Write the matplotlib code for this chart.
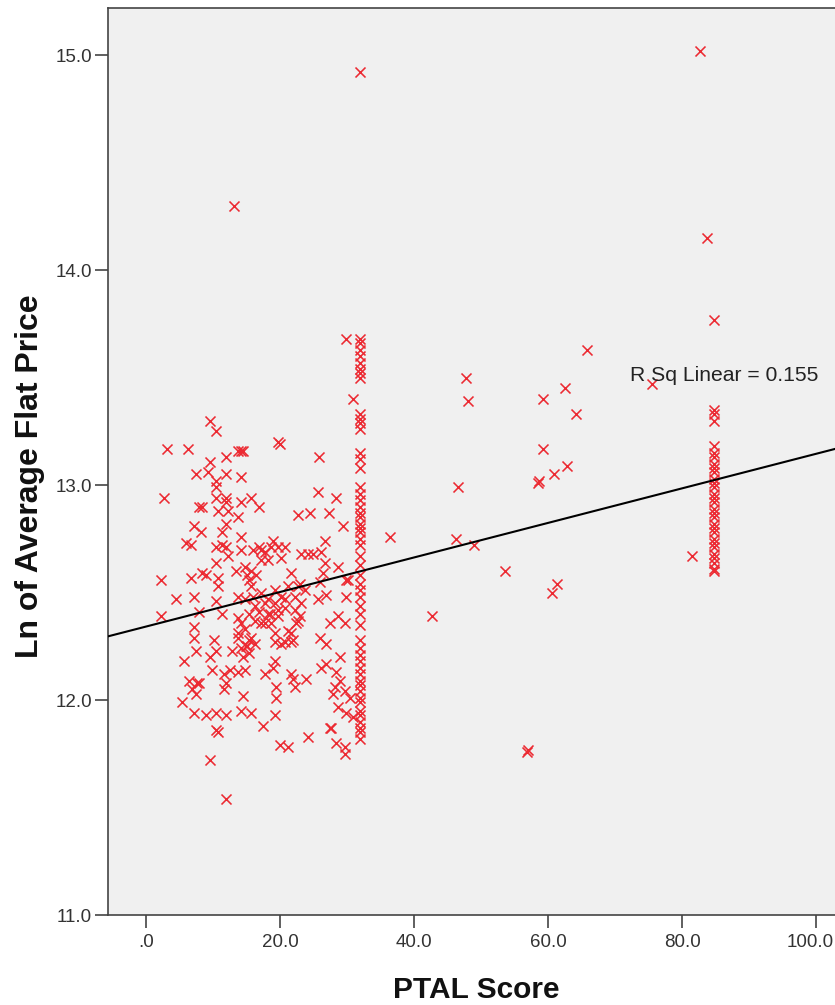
import matplotlib
matplotlib.use("Agg")
import matplotlib.pyplot as plt
import matplotlib.transforms as mtransforms
import numpy as np

plt.rcParams['font.family'] = ['Liberation Sans', 'DejaVu Sans']

# ---- data (PTAL score, ln of average flat price) ----
low_ptal_points = [
    (9.6, 13.30), (10.4, 13.25), (3.1, 13.17), (6.2, 13.17), (13.8, 13.16), (14.2, 13.16), (14.5, 13.16),
    (19.7, 13.20), (25.8, 13.13), (9.6, 13.11), (12.0, 13.13), (7.4, 13.05), (9.3, 13.06), (11.9, 13.05),
    (14.1, 13.04), (10.4, 13.02), (10.4, 12.99), (2.7, 12.94), (25.7, 12.97), (28.3, 12.94), (10.4, 12.94),
    (12.0, 12.94), (15.7, 12.94), (14.2, 12.92), (11.9, 12.92), (16.8, 12.90), (7.9, 12.90), (8.3, 12.90),
    (10.8, 12.88), (12.3, 12.88), (13.8, 12.85), (22.7, 12.86), (24.5, 12.87), (27.3, 12.87), (7.1, 12.81),
    (8.2, 12.78), (12.0, 12.82), (11.3, 12.78), (29.4, 12.81), (5.9, 12.73), (6.7, 12.72), (10.4, 12.71),
    (12.0, 12.71), (14.1, 12.76), (14.2, 12.70), (16.8, 12.71), (17.8, 12.69), (19.0, 12.74), (19.7, 12.71),
    (20.8, 12.71), (23.1, 12.68), (24.9, 12.68), (26.7, 12.74), (26.1, 12.69), (20.2, 12.66), (10.4, 12.64),
    (13.4, 12.60), (15.7, 12.60), (26.7, 12.64), (28.6, 12.62), (2.2, 12.56), (6.7, 12.57), (8.3, 12.59),
    (10.8, 12.57), (15.3, 12.56), (21.7, 12.59), (21.2, 12.53), (22.7, 12.53), (30.1, 12.56), (10.8, 12.53),
    (11.3, 12.72), (12.3, 12.67), (16.0, 12.70), (17.1, 12.70), (18.7, 12.71), (14.8, 12.62), (15.0, 12.58),
    (17.2, 12.65), (24.2, 12.68), (18.2, 12.65), (8.9, 12.58), (15.7, 12.53), (19.3, 12.51), (20.2, 12.48),
    (23.0, 12.54), (23.7, 12.51), (26.0, 12.55), (26.4, 12.59), (29.8, 12.56), (16.4, 12.58),
    (4.5, 12.47), (2.2, 12.39), (7.1, 12.48), (7.9, 12.41), (10.4, 12.46), (11.3, 12.40), (5.6, 12.18),
    (7.1, 12.34), (7.1, 12.29), (7.4, 12.23), (10.1, 12.28), (10.4, 12.23), (9.6, 12.20), (7.9, 12.08),
    (6.8, 12.05), (5.3, 11.99), (7.1, 11.94), (8.9, 11.93), (10.4, 11.94), (12.0, 11.93), (14.2, 11.95),
    (15.7, 11.94), (17.5, 11.88), (19.3, 11.93), (10.5, 11.86), (10.8, 11.85), (20.0, 11.79), (21.2, 11.78),
    (9.5, 11.72), (12.0, 11.54),
    (13.8, 12.38), (14.8, 12.33), (13.8, 12.29), (15.3, 12.28), (14.2, 12.24), (15.3, 12.22), (14.5, 12.20),
    (16.3, 12.26), (16.3, 12.44), (17.8, 12.45), (16.8, 12.41), (18.2, 12.40), (17.2, 12.36), (18.7, 12.36),
    (19.7, 12.39), (19.3, 12.31), (20.8, 12.43), (22.3, 12.42), (22.7, 12.37), (21.7, 12.31), (22.0, 12.28),
    (20.2, 12.26), (19.3, 12.27), (25.7, 12.47), (26.9, 12.49), (29.8, 12.48), (28.6, 12.39), (29.7, 12.36),
    (27.4, 12.36), (26.0, 12.29), (26.9, 12.26), (15.0, 12.25), (12.8, 12.23),
    (19.3, 12.18), (17.8, 12.12), (19.0, 12.15), (21.7, 12.12), (22.0, 12.10), (23.9, 12.10), (22.3, 12.06),
    (19.4, 12.06), (19.4, 12.01), (26.1, 12.15), (26.9, 12.17), (28.9, 12.20), (28.3, 12.13), (28.2, 12.06),
    (27.9, 12.03), (28.9, 12.09), (29.7, 12.04), (30.4, 12.01), (9.8, 12.14), (11.6, 12.12), (12.6, 12.14),
    (13.8, 12.13), (14.8, 12.14), (12.0, 12.08), (11.6, 12.05), (6.4, 12.09), (7.6, 12.08), (7.4, 12.03),
    (14.5, 12.02), (28.6, 11.97), (29.8, 11.94), (30.9, 11.92), (27.4, 11.87), (27.6, 11.87), (24.2, 11.83),
    (28.3, 11.80), (29.7, 11.78), (29.7, 11.75),
    (13.8, 12.48), (14.8, 12.47), (16.0, 12.48), (17.2, 12.50), (18.2, 12.47), (19.3, 12.45), (20.8, 12.47),
    (22.3, 12.48), (23.1, 12.45), (23.0, 12.39), (22.4, 12.36), (15.3, 12.40), (16.3, 12.37), (17.8, 12.36),
    (18.5, 12.40), (19.7, 12.42), (14.2, 12.36), (13.8, 12.31), (14.9, 12.25), (15.7, 12.29), (20.8, 12.27),
    (21.7, 12.27), (21.2, 12.32),
    (13.2, 14.30), (29.9, 13.68), (30.9, 13.40), (20.0, 13.19),
]

col32_x = 31.9
col32_y = [13.68, 13.66, 13.63, 13.60, 13.57, 13.54, 13.52, 13.50, 13.33, 13.31, 13.29, 13.26, 13.15, 13.12,
           13.08, 12.99, 12.96, 12.93, 12.90, 12.87, 12.85, 12.82, 12.80, 12.78, 12.75, 12.72, 12.67, 12.63,
           12.58, 12.54, 12.51, 12.48, 12.44, 12.40, 12.35, 12.28, 12.24, 12.21, 12.18, 12.15, 12.12, 12.09,
           12.07, 12.04, 12.01, 11.99, 11.95, 11.93, 11.90, 11.87, 11.85, 11.82]

col85_x = 84.8
col85_y = [13.35, 13.33, 13.30, 13.18, 13.15, 13.13, 13.10, 13.08, 13.06, 13.03, 13.01, 12.99, 12.96, 12.94,
           12.92, 12.89, 12.87, 12.85, 12.82, 12.80, 12.78, 12.75, 12.73, 12.71, 12.68, 12.66, 12.64, 12.61,
           12.60]

mid_high_points = [
    (31.9, 14.92), (82.7, 15.02), (83.7, 14.15), (84.8, 13.77), (65.8, 13.63), (75.5, 13.47), (47.8, 13.50),
    (48.1, 13.39), (62.5, 13.45), (59.3, 13.40), (64.2, 13.33), (59.3, 13.17), (60.9, 13.05), (62.8, 13.09),
    (58.5, 13.01), (58.6, 13.02), (46.6, 12.99), (46.3, 12.75), (49.0, 12.72), (53.6, 12.60), (36.4, 12.76),
    (42.7, 12.39), (60.6, 12.50), (61.3, 12.54), (56.9, 11.76), (57.0, 11.77), (81.5, 12.67),
]

fit_intercept = 12.342
fit_slope = 0.00804
r_sq_label = "R Sq Linear = 0.155"

x_ticks = [0, 20, 40, 60, 80, 100]
x_tick_labels = [".0", "20.0", "40.0", "60.0", "80.0", "100.0"]
y_ticks = [11, 12, 13, 14, 15]
y_tick_labels = ["11.0", "12.0", "13.0", "14.0", "15.0"]

# ---- assemble ----
xs = [p[0] for p in low_ptal_points] + [col32_x] * len(col32_y) + [col85_x] * len(col85_y) + [p[0] for p in mid_high_points]
ys = [p[1] for p in low_ptal_points] + col32_y + col85_y + [p[1] for p in mid_high_points]

W, H = 835, 1005
fig = plt.figure(figsize=(W / 100, H / 100), dpi=100)
ax = fig.add_axes([108 / W, 90 / H, 1 - 108 / W, 907 / H])
ax.set_facecolor('#F0F0F0')

ax.scatter(xs, ys, marker='x', s=52, c='#EC2A32', linewidths=1.15, zorder=3)
ax.axline((0, fit_intercept), slope=fit_slope, color='black', lw=1.5, zorder=4)
ax.text(72.2, 13.51, r_sq_label, fontsize=15.2, ha='left', va='center', color='#222222', zorder=5)

ax.set_xlim(-5.67, 102.8)
ax.set_ylim(11.0, 15.22)
ax.set_xticks(x_ticks)
ax.set_xticklabels(x_tick_labels)
ax.set_yticks(y_ticks)
ax.set_yticklabels(y_tick_labels)

for side in ['left', 'bottom', 'top']:
    ax.spines[side].set_color('#444444')
    ax.spines[side].set_linewidth(1.2)
ax.spines['right'].set_visible(False)

ax.tick_params(axis='both', direction='out', length=9.5, width=1.2, color='#444444',
               labelsize=13.5, labelcolor='#333333')
ax.tick_params(axis='x', pad=4)
ax.tick_params(axis='y', pad=2)

# keep the last x tick label inside the figure, as in the reference
last_lbl = ax.get_xticklabels()[-1]
last_lbl.set_transform(last_lbl.get_transform() +
                       mtransforms.ScaledTranslation(-6 / 100, 0, fig.dpi_scale_trans))

ax.set_xlabel("PTAL Score", fontsize=21.5, fontweight='bold', color='#111111')
ax.set_ylabel("Ln of Average Flat Price", fontsize=23, fontweight='bold', color='#111111')
ax.xaxis.set_label_coords((476 - 108) / 727, (915 - 990) / 907)
ax.xaxis.label.set_va('center')
ax.yaxis.set_label_coords((30 - 108) / 727, (915 - 476) / 907)
ax.yaxis.label.set_va('center')

fig.savefig('out.png', dpi=100)
